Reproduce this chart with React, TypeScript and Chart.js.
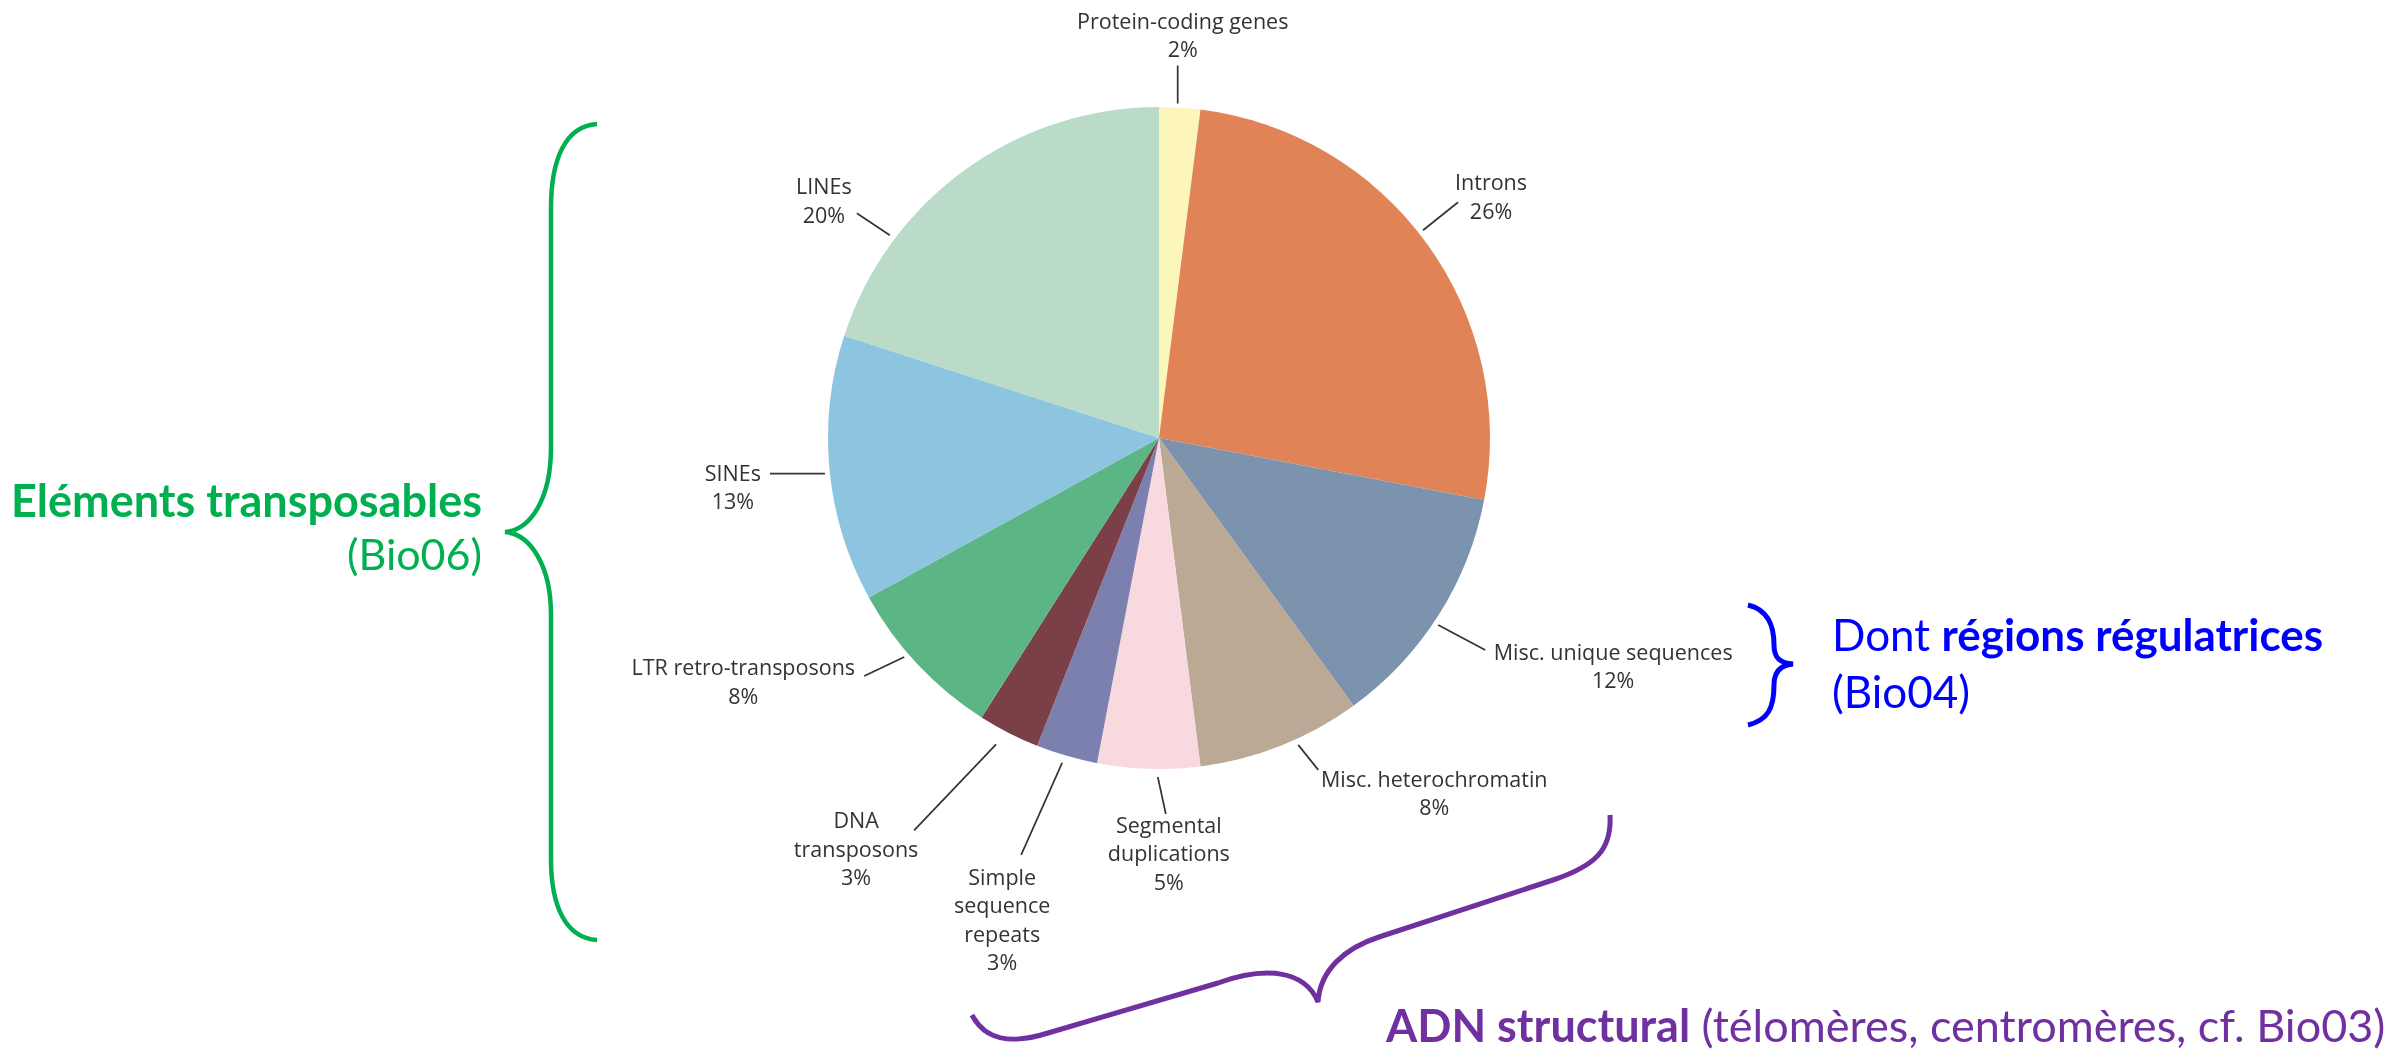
import React, { useEffect, useRef } from "react";
import { Chart, registerables } from "chart.js";

Chart.register(...registerables);

// ---- data ----
const categories = [
  "Protein-coding genes",
  "Introns",
  "Misc. unique sequences",
  "Misc. heterochromatin",
  "Segmental duplications",
  "Simple sequence repeats",
  "DNA transposons",
  "LTR retro-transposons",
  "SINEs",
  "LINEs",
];
const shares = [2, 26, 12, 8, 5, 3, 3, 8, 13, 20];
const labelLines = [
  ["Protein-coding genes"],
  ["Introns"],
  ["Misc. unique sequences"],
  ["Misc. heterochromatin"],
  ["Segmental", "duplications"],
  ["Simple", "sequence", "repeats"],
  ["DNA", "transposons"],
  ["LTR retro-transposons"],
  ["SINEs"],
  ["LINEs"],
];
const sliceColors = [
  "#FCF6BB",
  "#E08357",
  "#7C93AE",
  "#BBA895",
  "#F9D9E0",
  "#7C80AE",
  "#7B3F47",
  "#5BB585",
  "#8DC4E0",
  "#B9DBC7",
];

// ---- callout layout (angle tweak deg, gap px, line vector, text offset from line end) ----
const calloutLayout = [
  { adj: -0.4, gap: 4, dx: 0, dy: -38, tx: 5, ty: -37 },
  { adj: -2.2, gap: 5, dx: 35, dy: -28, tx: 33, ty: -12 },
  { adj: 1.4, gap: 5, dx: 47, dy: 25, tx: 128, ty: 10 },
  { adj: -2.8, gap: 6, dx: 20, dy: 25, tx: 116, ty: 17 },
  { adj: -1.6, gap: 8, dx: 8, dy: 37, tx: 3, ty: 19 },
  { adj: 0.4, gap: 8, dx: -41, dy: 92, tx: -19, ty: 30 },
  { adj: 1, gap: 16, dx: -82, dy: 86, tx: -58, ty: -2 },
  { adj: 2.5, gap: 5, dx: -40, dy: 19, tx: -121, ty: -1 },
  { adj: -0.7, gap: 5, dx: -55, dy: 0, tx: -37, ty: 7 },
  { adj: -17, gap: 6, dx: -33, dy: -22, tx: -33, ty: -19 },
];

const W = 2397;
const H = 1049;
const PIE_CX = 1159;
const PIE_CY = 438;
const PIE_R = 331;

const calloutPlugin = {
  id: "callouts",
  afterDatasetsDraw(chart: any) {
    const ctx = chart.ctx as CanvasRenderingContext2D;
    const meta = chart.getDatasetMeta(0);
    ctx.save();
    meta.data.forEach((arc: any, i: number) => {
      const p = arc.getProps(["x", "y", "startAngle", "endAngle", "outerRadius"], true);
      const L = calloutLayout[i];
      const a = (p.startAngle + p.endAngle) / 2 + (L.adj * Math.PI) / 180;
      const sx = p.x + (p.outerRadius + L.gap) * Math.cos(a);
      const sy = p.y + (p.outerRadius + L.gap) * Math.sin(a);
      const ex = sx + L.dx;
      const ey = sy + L.dy;
      ctx.strokeStyle = "#333333";
      ctx.lineWidth = 1.7;
      ctx.beginPath();
      ctx.moveTo(sx, sy);
      ctx.lineTo(ex, ey);
      ctx.stroke();
      const lines = labelLines[i].concat([shares[i] + "%"]);
      ctx.fillStyle = "#333333";
      ctx.font = '21.5px "Open Sans"';
      ctx.textAlign = "center";
      ctx.textBaseline = "alphabetic";
      lines.forEach((t, k) => {
        ctx.fillText(t, ex + L.tx, ey + L.ty + k * 28.5);
      });
    });
    ctx.restore();
  },
};

function App() {
  const ref = useRef<HTMLCanvasElement | null>(null);
  useEffect(() => {
    if (!ref.current) return;
    const chart = new Chart(ref.current, {
      type: "pie",
      data: {
        labels: categories,
        datasets: [
          {
            data: shares,
            backgroundColor: sliceColors,
            borderWidth: 0,
          },
        ],
      },
      options: {
        animation: false,
        responsive: false,
        maintainAspectRatio: false,
        layout: {
          padding: {
            left: PIE_CX - PIE_R,
            right: W - (PIE_CX + PIE_R),
            top: PIE_CY - PIE_R,
            bottom: H - (PIE_CY + PIE_R),
          },
        },
        plugins: {
          legend: { display: false },
          tooltip: { enabled: false },
        },
      },
      plugins: [calloutPlugin],
    });
    return () => chart.destroy();
  }, []);

  return (
    <div
      style={{
        position: "absolute",
        left: 0,
        top: 0,
        width: W,
        height: H,
        overflow: "hidden",
        background: "#ffffff",
      }}
    >
      <canvas ref={ref} width={W} height={H} style={{ position: "absolute", left: 0, top: 0, width: W, height: H }} />
      <svg
        width={W}
        height={H}
        style={{ position: "absolute", left: 0, top: 0, pointerEvents: "none" }}
      >
        {/* green brace */}
        <path
          d="M 597 124 C 565 126, 551 160, 551 208 L 551 447 C 551 500, 530 530, 505 532 C 530 534, 551 565, 551 615 L 551 859 C 551 905, 565 938, 597 940"
          fill="none"
          stroke="#00B050"
          strokeWidth={4.5}
        />
        <text x={482} y={517} textAnchor="end" fontFamily="Lato" fontWeight={700} fontSize={45} fill="#00B050">
          Eléments transposables
        </text>
        <text x={482} y={570} textAnchor="end" fontFamily="Lato" fontSize={43} fill="#00B050">
          (Bio06)
        </text>
        {/* blue brace */}
        <path
          d="M 1748 605 C 1768 610, 1774 625, 1774 645 C 1774 658, 1780 663, 1793 664 C 1780 665, 1774 672, 1774 685 C 1774 708, 1768 720, 1748 725"
          fill="none"
          stroke="#0000FF"
          strokeWidth={5}
        />
        <text x={1832} y={651} fontFamily="Lato" fontSize={44} fill="#0000FF">
          <tspan>Dont </tspan>
          <tspan fontWeight={700}>régions régulatrices</tspan>
        </text>
        <text x={1832} y={708} fontFamily="Lato" fontSize={44} fill="#0000FF">
          (Bio04)
        </text>
        {/* purple brace */}
        <path
          d="M 972 1015 C 985 1040, 1010 1045, 1048 1033 L 1218 983 C 1265 966, 1305 970, 1318 1002 C 1320 970, 1345 948, 1379 937 L 1553 880 C 1595 866, 1612 850, 1610 815"
          fill="none"
          stroke="#7030A0"
          strokeWidth={5}
        />
        <text x={1386} y={1042} fontFamily="Lato" fontSize={45} fill="#7030A0">
          <tspan fontWeight={700}>ADN structural</tspan>
          <tspan> (télomères, centromères, cf. Bio03)</tspan>
        </text>
      </svg>
    </div>
  );
}

export default App;
